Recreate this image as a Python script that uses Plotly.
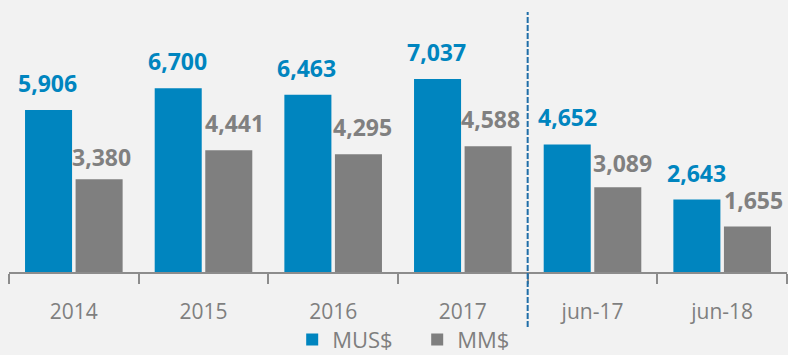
import plotly.graph_objects as go

# Categories and series values
categories = ["2014", "2015", "2016", "2017", "jun-17", "jun-18"]
mus_values = [5906, 6700, 6463, 7037, 4652, 2643]
mm_values = [3380, 4441, 4295, 4588, 3089, 1655]
series_names = ["MUS$", "MM$"]

BLUE = "#0085BF"
GRAY = "#7F7F7F"
BG = "#F2F2F2"
FONT = "Open Sans"

W, H = 788, 355
M_L, M_R, M_T, M_B = 9, 1, 0, 83
BARGAP, BARGROUPGAP = 0.22, 0.07

fig = go.Figure()
fig.add_trace(go.Bar(name=series_names[0], x=categories, y=mus_values,
                     marker=dict(color=BLUE, line=dict(width=0))))
fig.add_trace(go.Bar(name=series_names[1], x=categories, y=mm_values,
                     marker=dict(color=GRAY, line=dict(width=0))))

# value labels above each bar (x given as category index)
cat_w = (W - M_L - M_R) / len(categories)
slot = cat_w * (1 - BARGAP) / 2
offsets = [-slot / 2, slot / 2]
label_style = [dict(color=BLUE, size=23, family=FONT, weight="bold"),
               dict(color="#808080", size=23, family=FONT, weight="bold")]
# per-label nudges in px: grey labels sit a little right of their bars,
# and the two lowest grey labels hug their bars more closely
label_dx = [[-1, -1, -1, -1, 0, 0], [2, 6, 4, 2, 5, 6]]
label_dy = [[0, 0, 0, 0, 0, 0], [-5, 0, 0, 0, -3, 0]]
for s, vals in enumerate([mus_values, mm_values]):
    for i, v in enumerate(vals):
        fig.add_annotation(x=i, y=v, text=f"{v:,}", showarrow=False,
                           xanchor="center", yanchor="bottom",
                           xshift=offsets[s] + label_dx[s][i],
                           yshift=9 + label_dy[s][i],
                           font=label_style[s])

# divider between annual and half-year figures
fig.add_shape(type="line", xref="x", yref="paper", x0=3.5, x1=3.5,
              y0=-0.202, y1=0.956,
              line=dict(color="#1F6EA8", width=2, dash="6px,2px"))

fig.update_layout(
    width=W, height=H,
    margin=dict(l=M_L, r=M_R, t=M_T, b=M_B, autoexpand=False),
    paper_bgcolor=BG, plot_bgcolor=BG,
    barmode="group", bargap=BARGAP, bargroupgap=BARGROUPGAP,
    showlegend=True,
    legend=dict(orientation="h", x=0.364, xanchor="left", y=-0.172,
                yanchor="top", entrywidth=80, entrywidthmode="pixels",
                font=dict(color=GRAY, size=22, family=FONT),
                bgcolor="rgba(0,0,0,0)"),
    xaxis=dict(type="category", range=[-0.5, len(categories) - 0.5],
               showline=True, linecolor="#8C8C8C",
               linewidth=2, ticks="outside", tickson="boundaries",
               ticklen=10, tickwidth=2, tickcolor="#8C8C8C",
               ticklabelstandoff=20,
               tickfont=dict(color=GRAY, size=21, family=FONT),
               showgrid=False, zeroline=False),
    yaxis=dict(range=[0, 9916], visible=False, showgrid=False,
               zeroline=False),
)

fig.write_html("out.html")
